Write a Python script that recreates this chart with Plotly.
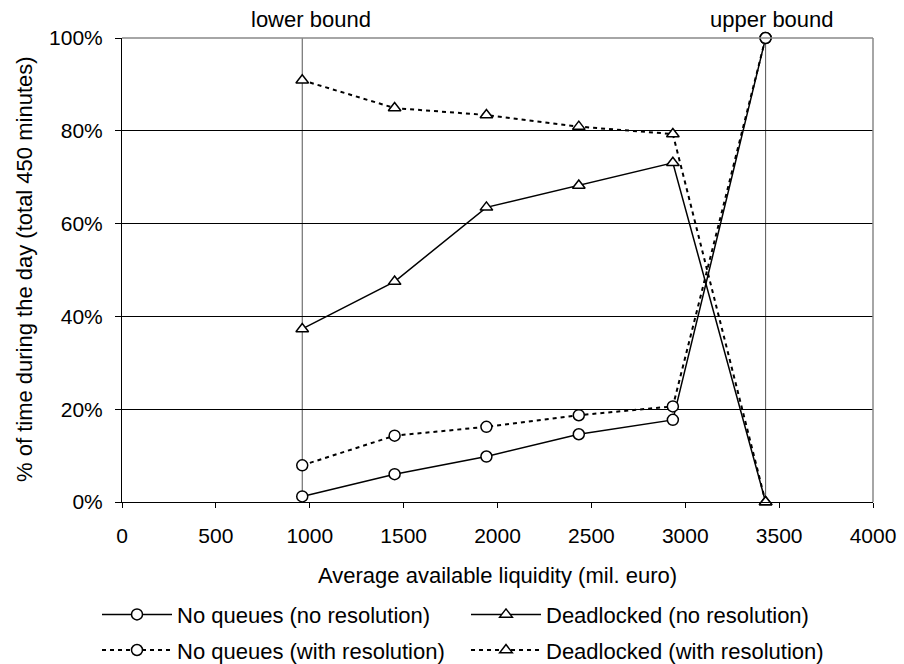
import plotly.graph_objects as go

liquidity = [960, 1452, 1941, 2433, 2934, 3428]
noq_nores = [1.2, 6.0, 9.8, 14.6, 17.7, 100]
dead_nores = [37.3, 47.5, 63.5, 68.2, 73.1, 0]
noq_res = [7.9, 14.3, 16.2, 18.7, 20.6, 100]
dead_res = [90.9, 84.9, 83.4, 80.9, 79.3, 0]
x_ticks = [0, 500, 1000, 1500, 2000, 2500, 3000, 3500, 4000]
y_ticks = [0, 20, 40, 60, 80, 100]
bound_labels = ["lower bound", "upper bound"]
x_title = "Average available liquidity (mil. euro)"
y_title = "% of time during the day (total 450 minutes)"

FONT = "Liberation Sans, Arial, sans-serif"

fig = go.Figure()

def add(name, y, dash, symbol, width, legend):
    fig.add_trace(go.Scatter(
        x=liquidity, y=y, name=name, mode="lines+markers",
        line=dict(color="black", width=width, dash=dash),
        marker=dict(symbol=symbol, size=11, color="white",
                    line=dict(color="black", width=1.5)),
        cliponaxis=False, legend=legend, legendgroup=name,
    ))

add("No queues (no resolution)", noq_nores, "solid", "circle", 1.5, "legend")
add("Deadlocked (no resolution)", dead_nores, "solid", "triangle-up", 1.5, "legend2")
add("No queues (with resolution)", noq_res, "4px,4px", "circle", 2, "legend")
add("Deadlocked (with resolution)", dead_res, "4px,4px", "triangle-up", 2, "legend2")

for xv, lbl, xs in zip([liquidity[0], liquidity[-1]], bound_labels, [9, 6]):
    fig.add_shape(type="line", xref="x", yref="paper", x0=xv, x1=xv, y0=0, y1=1,
                  line=dict(color="#555555", width=1), layer="below")
    fig.add_annotation(x=xv, xref="x", y=1, yref="paper", text=lbl,
                       showarrow=False, yanchor="bottom", yshift=4, xshift=xs,
                       font=dict(size=22, color="black", family=FONT))

# axis titles
fig.add_annotation(x=0.5, xref="paper", y=0, yref="paper", text=x_title,
                   showarrow=False, yanchor="middle", yshift=-73,
                   font=dict(size=22, color="black", family=FONT))
fig.add_annotation(x=0, xref="paper", y=0.5, yref="paper", text=y_title,
                   showarrow=False, xanchor="center", yanchor="middle",
                   xshift=-98, yshift=1, textangle=-90,
                   font=dict(size=22, color="black", family=FONT))

leg_common = dict(orientation="v", xref="container", yref="container",
                  xanchor="left", yanchor="top", y=0.106,
                  font=dict(size=22, family=FONT), tracegroupgap=4,
                  itemwidth=70, bgcolor="rgba(0,0,0,0)")

fig.update_layout(
    width=904, height=664,
    margin=dict(l=122, r=31, t=38, b=162, autoexpand=False),
    paper_bgcolor="white", plot_bgcolor="white",
    font=dict(family=FONT, size=22, color="black"),
    showlegend=True,
    legend=dict(x=97 / 904, **leg_common),
    legend2=dict(x=466 / 904, **leg_common),
)
fig.update_xaxes(range=[0, 4000], tickvals=x_ticks, ticks="outside", ticklen=5,
                 tickcolor="black", showline=True, linecolor="black", linewidth=1,
                 mirror=False, showgrid=False, zeroline=False, ticklabelstandoff=10,
                 tickfont=dict(size=21), automargin=False)
fig.update_yaxes(range=[0, 100], tickvals=y_ticks, ticktext=[f"{v}%" for v in y_ticks],
                 ticks="outside", ticklen=6, tickcolor="black", showline=True,
                 linecolor="black", linewidth=1, showgrid=True, gridcolor="black",
                 gridwidth=1, zeroline=False, ticklabelstandoff=8,
                 tickfont=dict(size=21), automargin=False)
# gray border on top and right
fig.add_shape(type="line", xref="paper", yref="paper", x0=0, x1=1, y0=1, y1=1,
              line=dict(color="#888888", width=1.5))
fig.add_shape(type="line", xref="paper", yref="paper", x0=1, x1=1, y0=0, y1=1,
              line=dict(color="#888888", width=1.5))

fig.write_html("out.html", config={"displayModeBar": False})
with open("out.html", encoding="utf-8") as f:
    html = f.read()
html = html.replace("<head>", "<head><style>html,body{margin:0;padding:0;overflow:hidden}</style>", 1)
with open("out.html", "w", encoding="utf-8") as f:
    f.write(html)
